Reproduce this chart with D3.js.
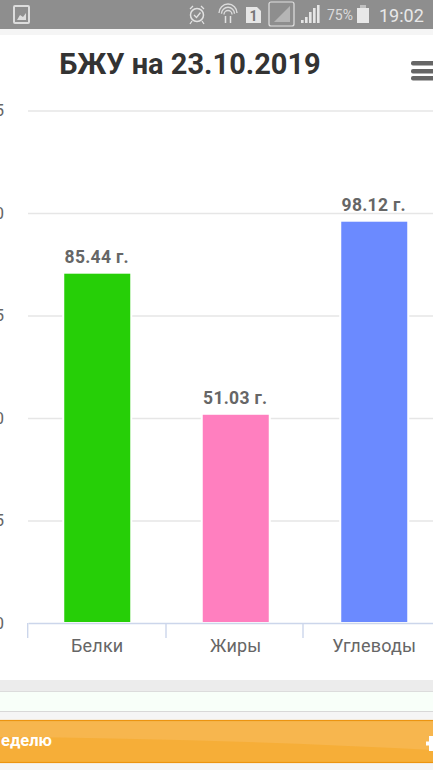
<!DOCTYPE html>
<html><head><meta charset="utf-8">
<script src="https://cdnjs.cloudflare.com/ajax/libs/d3/7.8.5/d3.min.js"></script>
<style>html,body{margin:0;padding:0;background:#fff;overflow:hidden}svg{display:block}text{font-family:Roboto,sans-serif}</style>
</head><body><svg id="c" width="433" height="770"></svg>
<script>
const categories=["Белки","Жиры","Углеводы"];
const values=[85.44,51.03,98.12];
const barColors=["#26cf07","#ff7fbf","#6b8aff"];
const yTicks=[0,25,50,75,100,125];
const titleText="БЖУ на 23.10.2019";
const footerText="еделю";
const statusBattery="75%";
const statusTime="19:02";

const svg=d3.select("#c");
const x=d3.scaleBand().domain(categories).range([28,443.5]).paddingInner(0).paddingOuter(0);
const boundary=d3.scaleLinear().domain([0,1,2]).range([27.7,166,303]);
const y=d3.scaleLinear().domain([0,125]).range([623,110.5]);
const barW=68;

// page furniture
svg.append("rect").attr("x",0).attr("y",0).attr("width",433).attr("height",770).attr("fill","#fff");
svg.append("rect").attr("x",0).attr("y",29).attr("width",433).attr("height",6).attr("fill","#f5f5f5");
svg.append("rect").attr("x",0).attr("y",680).attr("width",433).attr("height",12).attr("fill","#ececec");
svg.append("rect").attr("x",0).attr("y",691).attr("width",433).attr("height",1).attr("fill","#dcdcdc");
svg.append("rect").attr("x",0).attr("y",692).attr("width",433).attr("height",19).attr("fill","#f8fff9");
svg.append("rect").attr("x",0).attr("y",711).attr("width",433).attr("height",1).attr("fill","#d8d8d8");
svg.append("rect").attr("x",0).attr("y",712).attr("width",433).attr("height",58).attr("fill","#f5f5f5");

// orange button
svg.append("rect").attr("x",-2).attr("y",720.5).attr("width",437).attr("height",42).attr("fill","#f6ae38");
svg.append("path").attr("d","M-2 721 H435 V750 Q200 738 -2 737 Z").attr("fill","#f7b64e");
svg.append("rect").attr("x",-2).attr("y",720.5).attr("width",437).attr("height",42).attr("fill","none").attr("stroke","#ec9410").attr("stroke-width",1.2);
svg.append("text").attr("x",1).attr("y",746).attr("font-size",16.5).attr("font-weight",700).attr("fill","#fff").text(footerText);
svg.append("rect").attr("x",426).attr("y",741.5).attr("width",7).attr("height",4).attr("fill","#fff");
svg.append("rect").attr("x",429).attr("y",736).attr("width",4).attr("height",15).attr("fill","#fff");

// status bar
const sb=svg.append("g");
sb.append("rect").attr("width",433).attr("height",29).attr("fill","#8e8e8e");
sb.append("rect").attr("x",14).attr("y",6).attr("width",15).attr("height",17).attr("rx",1).attr("fill","none").attr("stroke","#dcdcdc").attr("stroke-width",2);
sb.append("path").attr("d","M17 20 L20 15 L23 17 L26 13 L26 20 Z").attr("fill","#dcdcdc");
sb.append("circle").attr("cx",197).attr("cy",15).attr("r",6.5).attr("fill","none").attr("stroke","#e2e2e2").attr("stroke-width",1.5);
sb.append("path").attr("d","M194 15 L196.5 17.5 L200.5 12.5").attr("fill","none").attr("stroke","#e2e2e2").attr("stroke-width",1.3);
sb.append("path").attr("d","M190 9 L193 6 M204 9 L201 6 M192 21 L190 24 M202 21 L204 24").attr("stroke","#e2e2e2").attr("stroke-width",1.3);
[9,6.5,4].forEach(r=>sb.append("path").attr("d",`M${228-r} ${13+(9-r)*0.3} A${r} ${r} 0 0 1 ${228+r} ${13+(9-r)*0.3}`).attr("fill","none").attr("stroke","#dcdcdc").attr("stroke-width",1.4));
sb.append("path").attr("d","M225.5 16 L225.5 23 M230.5 16 L230.5 23").attr("stroke","#e2e2e2").attr("stroke-width",1.5);
sb.append("path").attr("d","M246 7 H257 L261 11 V23 H246 Z").attr("fill","#e6e6e6");
sb.append("text").attr("x",253.5).attr("y",21).attr("text-anchor","middle").attr("font-size",14).attr("font-weight",700).attr("fill","#777").text("1");
sb.append("rect").attr("x",269).attr("y",2).attr("width",25).attr("height",24).attr("rx",2).attr("fill","none").attr("stroke","#e0e0e0").attr("stroke-width",1.2);
sb.append("path").attr("d","M274 22 L290 6 L290 22 Z").attr("fill","#b5b5b5");
[[301,3],[305,6],[309,11],[313,15],[317,18]].forEach(d=>sb.append("rect").attr("x",d[0]).attr("y",23-d[1]).attr("width",2.6).attr("height",d[1]).attr("fill","#e6e6e6"));
sb.append("text").attr("x",327).attr("y",20).attr("font-size",14).attr("fill","#dcdcdc").text(statusBattery);
sb.append("rect").attr("x",357).attr("y",8).attr("width",12).attr("height",15).attr("fill","#e8e8e8");
sb.append("rect").attr("x",360).attr("y",5).attr("width",6).attr("height",3).attr("fill","#c0c0c0");
sb.append("text").attr("x",379).attr("y",22).attr("font-size",18).attr("fill","#e8e8e8").text(statusTime);

// title
svg.append("text").attr("x",190).attr("y",74).attr("text-anchor","middle").attr("font-size",29).attr("font-weight",700).attr("fill","#333").text(titleText);

// menu icon
[63,71,78].forEach(v=>svg.append("rect").attr("x",411).attr("y",v-2).attr("width",24).attr("height",4.5).attr("rx",2).attr("fill","#666"));

// grid + value axis
const gy=svg.append("g").attr("transform","translate(28,0)");
gy.call(d3.axisLeft(y).tickValues(yTicks).tickSize(0).tickPadding(24));
gy.select(".domain").remove();
gy.selectAll("text").attr("font-size",17).attr("fill","#666").style("font-family","Roboto,sans-serif");
gy.selectAll(".tick").filter(d=>d>0).append("line").attr("x1",0).attr("x2",405).attr("stroke","#e6e6e6").attr("stroke-width",1.3);

// bars
svg.selectAll("rect.bar").data(categories).join("rect").attr("class","bar")
 .attr("x",d=>x(d)+x.bandwidth()/2-barW/2).attr("width",barW)
 .attr("y",(d,i)=>y(values[i])).attr("height",(d,i)=>y(0)-y(values[i]))
 .attr("fill",(d,i)=>barColors[i]).attr("stroke","#fff").attr("stroke-width",2);

// value labels
svg.selectAll("text.val").data(categories).join("text").attr("class","val")
 .attr("x",d=>x(d)+x.bandwidth()/2-0.5).attr("y",(d,i)=>y(values[i])-9.5)
 .attr("text-anchor","middle").attr("font-size",17.5).attr("font-weight",700).attr("fill","#666").style("letter-spacing","0.3px")
 .text((d,i)=>values[i]+" г.");

// category axis
const gx=svg.append("g").attr("transform","translate(0,623)");
gx.call(d3.axisBottom(x).tickSize(0).tickPadding(16.5));
gx.select(".domain").attr("stroke","#ccd6eb").attr("stroke-width",1.4);
gx.selectAll(".tick text").attr("font-size",18).attr("fill","#666").style("letter-spacing","0.2px").style("font-family","Roboto,sans-serif");
[0,1,2].forEach(i=>{gx.append("line").attr("x1",boundary(i)).attr("x2",boundary(i)).attr("y1",0).attr("y2",15).attr("stroke","#ccd6eb").attr("stroke-width",1.4);});
</script></body></html>
